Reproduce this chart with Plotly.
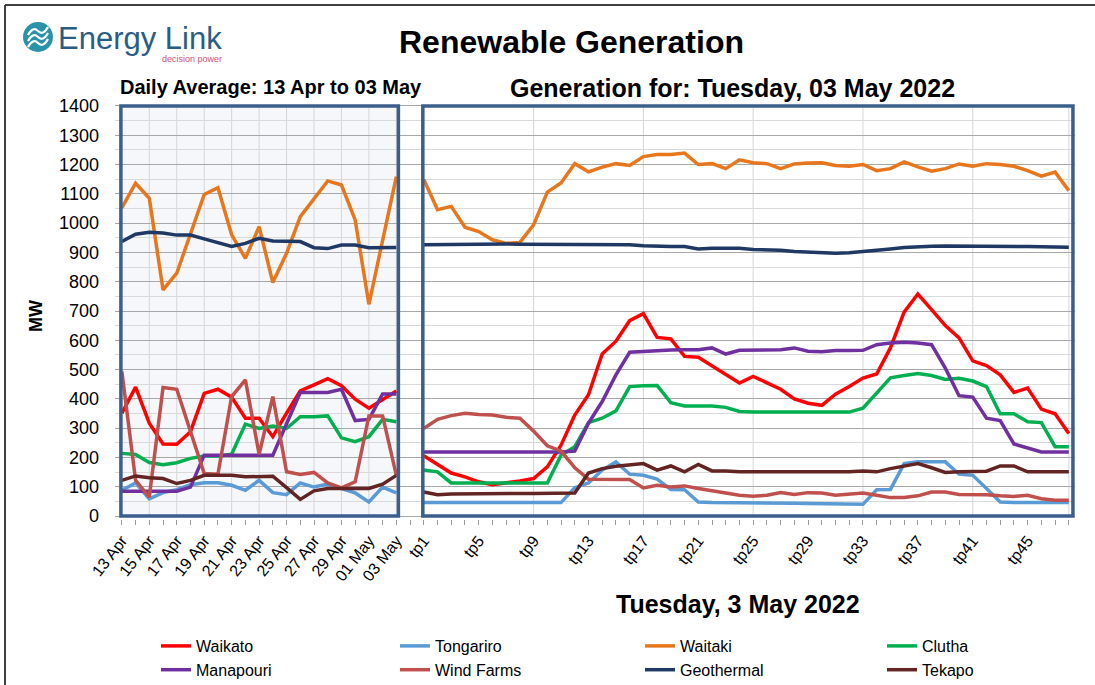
import plotly.graph_objects as go

# ---------------- data ----------------
days = ["13 Apr", "14 Apr", "15 Apr", "16 Apr", "17 Apr", "18 Apr", "19 Apr", "20 Apr",
        "21 Apr", "22 Apr", "23 Apr", "24 Apr", "25 Apr", "26 Apr", "27 Apr", "28 Apr",
        "29 Apr", "30 Apr", "01 May", "02 May", "03 May"]
periods = ["tp%d" % k for k in range(1, 49)]

day_waikato = [351, 440, 317, 246, 245, 288, 419, 433, 406, 334, 334, 271, 351, 427, 448, 469, 445, 399, 368, 397, 427]
day_tongariro = [88, 113, 59, 80, 90, 107, 114, 114, 105, 88, 122, 80, 73, 113, 99, 109, 94, 79, 48, 99, 79]
day_waitaki = [1052, 1136, 1085, 772, 829, 960, 1098, 1121, 960, 880, 988, 797, 897, 1022, 1085, 1144, 1130, 1011, 723, 948, 1159]
day_clutha = [214, 210, 183, 175, 182, 197, 205, 205, 211, 314, 299, 307, 299, 339, 339, 342, 267, 254, 271, 330, 322]
day_manapouri = [85, 85, 85, 85, 85, 99, 208, 208, 208, 208, 208, 208, 315, 422, 422, 422, 433, 326, 330, 417, 417]
day_wind = [494, 122, 65, 439, 433, 288, 145, 143, 408, 465, 211, 408, 151, 142, 149, 113, 96, 117, 342, 342, 139]
day_geothermal = [937, 962, 969, 966, 959, 959, 946, 933, 920, 931, 948, 939, 939, 937, 916, 913, 925, 925, 916, 917, 917]
day_tekapo = [122, 137, 131, 128, 111, 122, 139, 139, 139, 134, 134, 136, 97, 57, 86, 94, 94, 94, 94, 109, 139]

tp_waikato = [206, 177, 147, 134, 117, 107, 113, 120, 128, 168, 242, 345, 414, 553, 597, 667, 691, 610, 605, 545,
              542, 513, 486, 454, 477, 454, 433, 400, 385, 378, 416, 442, 471, 485, 574, 696, 758, 705, 650, 608,
              530, 514, 482, 422, 437, 365, 349, 282]
tp_tongariro = [46, 46, 46, 46, 46, 46, 46, 46, 46, 46, 46, 97, 113, 157, 185, 143, 139, 126, 91, 90,
                48, 46, 46, 46, 46, 45, 45, 44, 43, 42, 40, 40, 40, 90, 91, 179, 185, 185, 185, 143,
                139, 94, 48, 46, 46, 46, 46, 46]
tp_waitaki = [1149, 1046, 1057, 986, 971, 943, 931, 934, 994, 1106, 1137, 1203, 1175, 1191, 1203, 1197, 1227, 1234, 1234, 1239,
              1200, 1203, 1186, 1216, 1206, 1203, 1186, 1202, 1205, 1206, 1197, 1194, 1200, 1179, 1186, 1209, 1192, 1177, 1186, 1202,
              1194, 1203, 1200, 1194, 1179, 1160, 1174, 1111]
tp_clutha = [157, 151, 113, 113, 113, 113, 113, 113, 113, 113, 208, 237, 319, 334, 359, 442, 445, 446, 387, 376,
             376, 376, 371, 357, 355, 355, 355, 354, 355, 355, 355, 355, 368, 421, 472, 480, 487, 480, 466, 470,
             461, 442, 349, 349, 322, 319, 237, 237]
tp_manapouri = [219, 219, 219, 219, 219, 219, 219, 219, 219, 219, 219, 222, 317, 391, 482, 559, 562, 566, 567, 568,
                568, 574, 553, 566, 566, 566, 568, 574, 563, 561, 565, 565, 566, 585, 591, 593, 591, 585, 505, 411,
                406, 334, 326, 246, 233, 219, 219, 219]
tp_wind = [299, 330, 343, 351, 347, 345, 337, 334, 290, 240, 222, 165, 126, 125, 125, 125, 96, 105, 99, 103,
           94, 86, 80, 71, 68, 71, 80, 74, 80, 79, 71, 74, 79, 71, 63, 63, 69, 82, 82, 74,
           74, 73, 69, 67, 71, 59, 54, 54]
tp_geothermal = [926, 927, 928, 928, 928, 929, 929, 928, 928, 928, 927, 927, 928, 928, 927, 926, 923, 921, 920, 920,
                 912, 914, 914, 914, 910, 909, 907, 903, 901, 898, 897, 899, 903, 906, 912, 917, 920, 921, 922, 922,
                 921, 920, 920, 920, 920, 919, 919, 918]
tp_tekapo = [82, 73, 75, 76, 77, 77, 77, 77, 77, 77, 79, 79, 147, 162, 170, 174, 179, 157, 171, 151,
             176, 154, 154, 151, 151, 151, 151, 151, 151, 151, 151, 151, 154, 151, 162, 171, 179, 165, 149, 151,
             151, 153, 171, 171, 151, 151, 151, 151]

series_names = ["Waikato", "Tongariro", "Waitaki", "Clutha", "Manapouri", "Wind Farms", "Geothermal", "Tekapo"]
series_colors = ["#ff0000", "#5b9bd5", "#e8761c", "#00b050", "#7030a0", "#c0504d", "#1f3864", "#632523"]
day_values = [day_waikato, day_tongariro, day_waitaki, day_clutha, day_manapouri, day_wind, day_geothermal, day_tekapo]
tp_values = [tp_waikato, tp_tongariro, tp_waitaki, tp_clutha, tp_manapouri, tp_wind, tp_geothermal, tp_tekapo]

# ---------------- layout geometry ----------------
W, H = 1095, 685
ML, MR, MT, MB = 115, 20, 103, 166
PW = W - ML - MR
PH = H - MT - MB


def px(x):
    return (x - ML) / PW


def py(y):
    return (H - MB - y) / PH


n_days = len(days)
gap = 1
x_days = list(range(n_days))
x_tp = [n_days + gap + i for i in range(len(periods))]
x_all = x_days + [n_days] + x_tp

legend_ids = ["legend", "legend2", "legend3", "legend4"]
fig = go.Figure()
for i, name in enumerate(series_names):
    fig.add_trace(go.Scatter(
        x=x_all,
        y=day_values[i] + [None] + tp_values[i],
        mode="lines",
        name=name,
        line=dict(color=series_colors[i], width=3.5),
        connectgaps=False,
        legend=legend_ids[i % 4],
        legendrank=i,
    ))

# tick labels
tickvals = [x_days[i] for i in range(0, n_days, 2)] + [x_tp[k] for k in range(0, len(periods) - 3, 4)]
ticktext = [days[i] for i in range(0, n_days, 2)] + [periods[k] for k in range(0, len(periods) - 3, 4)]

box_color = "#3b5f8d"
grid_v = "#d6d6d6"
shapes = []
left_x0, left_x1 = x_days[0] - 0.07, x_days[-1] + 0.15
right_x0, right_x1 = x_tp[0] - 0.07, x_tp[-1] + 0.3
shapes.append(dict(type="rect", xref="x", yref="y", x0=left_x0, x1=left_x1, y0=0, y1=1400,
                   fillcolor="#f5f7fb", line=dict(width=0), layer="below"))
for xv in x_days[2::2]:
    shapes.append(dict(type="line", xref="x", yref="y", x0=xv, x1=xv, y0=0, y1=1400,
                       line=dict(color=grid_v, width=1), layer="below"))
for xv in x_tp[8::8] + [x_tp[-1]]:
    shapes.append(dict(type="line", xref="x", yref="y", x0=xv, x1=xv, y0=0, y1=1400,
                       line=dict(color=grid_v, width=1), layer="below"))
for (a, b) in [(left_x0, left_x1), (right_x0, right_x1)]:
    shapes.append(dict(type="rect", xref="x", yref="y", x0=a, x1=b, y0=0, y1=1400,
                       line=dict(color=box_color, width=3.5), fillcolor="rgba(0,0,0,0)", layer="above"))

# outer frame
shapes.append(dict(type="line", xref="paper", yref="paper", x0=px(5), x1=px(1095), y0=py(5), y1=py(5),
                   line=dict(color="#404040", width=2)))
shapes.append(dict(type="line", xref="paper", yref="paper", x0=px(5), x1=px(5), y0=py(5), y1=py(685),
                   line=dict(color="#404040", width=2)))

# logo circle + waves
shapes.append(dict(type="circle", xref="paper", yref="paper", x0=px(23), x1=px(53), y0=py(52), y1=py(22),
                   fillcolor="#2a93ab", line=dict(width=0)))
for d in (-6, 0, 6):
    pts = [(28, 41 + d), (33, 32 + d), (38, 37 + d), (43, 42 + d), (48, 33 + d)]
    path = "M %f %f Q %f %f %f %f Q %f %f %f %f" % (
        px(pts[0][0]), py(pts[0][1]), px(pts[1][0]), py(pts[1][1]), px(pts[2][0]), py(pts[2][1]),
        px(pts[3][0]), py(pts[3][1]), px(pts[4][0]), py(pts[4][1]))
    shapes.append(dict(type="path", xref="paper", yref="paper", path=path,
                       line=dict(color="white", width=2.2)))

FONT = "Liberation Sans, Arial, sans-serif"


def ann(text, x, y, size, xanchor="center", bold=True, color="black", angle=0, family=FONT):
    return dict(text=("<b>%s</b>" % text) if bold else text, x=px(x), y=py(y), xref="paper", yref="paper",
                xanchor=xanchor, yanchor="middle", showarrow=False, textangle=angle,
                font=dict(size=size, color=color, family=family))


annotations = [
    ann("Renewable Generation", 571, 42, 32),
    ann("Daily Average: 13 Apr to 03 May", 271, 87, 20),
    ann("Generation for: Tuesday, 03 May 2022", 732, 88, 25),
    ann("Tuesday, 3 May 2022", 738, 604, 25),
    ann("MW", 36, 316, 18, angle=-90),
    ann("Energy Link", 56, 38, 31, xanchor="left", bold=False, color="#2a5d86"),
    ann("decision power", 224, 59, 9, xanchor="right", bold=False, color="#d4507a"),
]

legend_cols = [156, 395, 640, 882]
legend_layout = {}
for j, lid in enumerate(legend_ids):
    legend_layout[lid] = dict(orientation="v", bgcolor="rgba(0,0,0,0)",
                              font=dict(size=16, family=FONT, color="black"),
                              x=px(legend_cols[j]), y=py(629), xanchor="left", yanchor="top",
                              tracegroupgap=0, itemwidth=30)

fig.update_layout(
    width=W, height=H,
    margin=dict(l=ML, r=MR, t=MT, b=MB, autoexpand=False),
    paper_bgcolor="white", plot_bgcolor="white",
    font=dict(family=FONT, color="black"),
    showlegend=True,
    xaxis=dict(range=[-0.5, x_tp[-1] + 0.45], tickmode="array", tickvals=tickvals, ticktext=ticktext,
               tickangle=-52, tickfont=dict(size=16, family=FONT, color="black"),
               ticks="outside", ticklen=5, tickcolor="#9a9a9a", showgrid=False, zeroline=False, showline=False,
               minor=dict(tickmode="linear", tick0=0, dtick=1, ticks="outside", ticklen=5, tickcolor="#9a9a9a",
                          showgrid=False)),
    yaxis=dict(range=[-10, 1410], tickmode="linear", tick0=0, dtick=100, showgrid=True, gridcolor="#a8a8a8",
               gridwidth=1, zeroline=False, showline=False, ticks="", ticklabelstandoff=15,
               tickfont=dict(size=18, family=FONT, color="black"),
               minor=dict(tickmode="linear", tick0=50, dtick=100, showgrid=True, gridcolor="#dadada", gridwidth=1)),
    shapes=shapes,
    annotations=annotations,
    **legend_layout,
)

fig.write_html("out.html", config={"displayModeBar": False},
               post_script="document.body.style.margin='0';document.body.style.overflow='hidden';")
